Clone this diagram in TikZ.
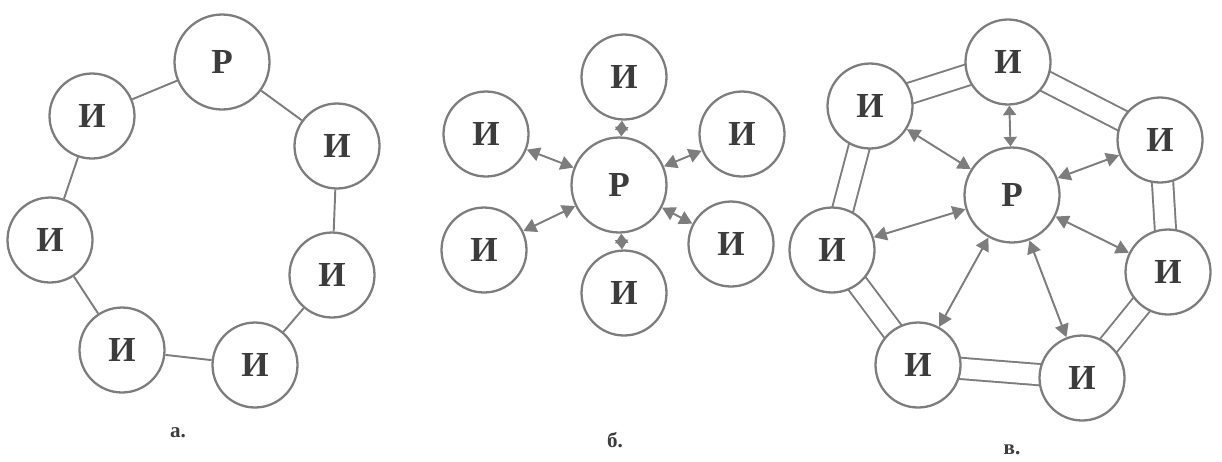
\documentclass[tikz,border=0pt]{standalone}
\usepackage{fontspec}
\setmainfont{Liberation Serif}
\usetikzlibrary{arrows.meta,backgrounds}
\definecolor{inkgray}{RGB}{125,125,125}
\definecolor{textgray}{RGB}{60,60,60}

\begin{document}
\begin{tikzpicture}[
    x=0.02cm, y=-0.02cm,
    unit/.style={circle, draw=inkgray, line width=1.3pt, fill=white,
      inner sep=0pt, minimum size=1.7cm,
      font=\fontsize{20}{22}\selectfont\bfseries, text=textgray},
    hub/.style={unit, minimum size=1.9cm},
    link/.style={draw=inkgray, line width=1.1pt},
    dlink/.style={draw=inkgray, line width=1.1pt, double=white,
      double distance=11pt},
    biarr/.style={link, {Triangle[length=2.6mm,width=2.8mm]}-{Triangle[length=2.6mm,width=2.8mm]}},
    shortarr/.style={link, {Triangle[length=1.9mm,width=2.6mm]}-{Triangle[length=1.9mm,width=2.6mm]}},
    captext/.style={font=\fontsize{12}{14}\selectfont\bfseries, text=textgray}
  ]
  \useasboundingbox (0,0) rectangle (1222,461);

  % ring
  \node[hub]  (aR)  at (222,62)  {Р};
  \node[unit] (aI1) at (92,116)  {И};
  \node[unit] (aI2) at (50,240)  {И};
  \node[unit] (aI3) at (122,350) {И};
  \node[unit] (aI4) at (255,365) {И};
  \node[unit] (aI5) at (332,275) {И};
  \node[unit] (aI6) at (337,146) {И};
  \draw[link] (aR) -- (aI6);
  \draw[link] (aI6) -- (aI5);
  \draw[link] (aI5) -- (aI4);
  \draw[link] (aI4) -- (aI3);
  \draw[link] (aI3) -- (aI2);
  \draw[link] (aI2) -- (aI1);
  \draw[link] (aI1) -- (aR);
  \node[captext] (acap) at (178,433) {а.};

  % star
  \node[hub]  (bR)  at (619,185) {Р};
  \node[unit] (bI1) at (624,77)  {И};
  \node[unit] (bI2) at (742,134) {И};
  \node[unit] (bI3) at (731,244) {И};
  \node[unit] (bI4) at (624,293) {И};
  \node[unit] (bI5) at (484,250) {И};
  \node[unit] (bI6) at (486,134) {И};
  \draw[shortarr] (bR) -- (bI1);
  \draw[biarr] (bR) -- (bI2);
  \draw[biarr] (bR) -- (bI3);
  \draw[shortarr] (bR) -- (bI4);
  \draw[biarr] (bR) -- (bI5);
  \draw[biarr] (bR) -- (bI6);
  \node[captext] (bcap) at (615,440) {б.};

  % ring with star
  \node[hub]  (cR)  at (1012,195) {Р};
  \node[unit] (cI1) at (1008,62)  {И};
  \node[unit] (cI2) at (1160,140) {И};
  \node[unit] (cI3) at (1168,272) {И};
  \node[unit] (cI4) at (1082,378) {И};
  \node[unit] (cI5) at (918,365)  {И};
  \node[unit] (cI6) at (832,250)  {И};
  \node[unit] (cI7) at (870,106)  {И};
  \begin{scope}[on background layer]
    \draw[dlink] (cI1.center) -- (cI2.center);
    \draw[dlink] (cI2.center) -- (cI3.center);
    \draw[dlink] (cI3.center) -- (cI4.center);
    \draw[dlink] (cI4.center) -- (cI5.center);
    \draw[dlink] (cI5.center) -- (cI6.center);
    \draw[dlink] (cI6.center) -- (cI7.center);
    \draw[dlink] (cI7.center) -- (cI1.center);
  \end{scope}
  \draw[shortarr] (cR) -- (cI1);
  \draw[biarr] (cR) -- (cI2);
  \draw[biarr] (cR) -- (cI3);
  \draw[biarr] (cR) -- (cI4);
  \draw[biarr] (cR) -- (cI5);
  \draw[biarr] (cR) -- (cI6);
  \draw[biarr] (cR) -- (cI7);
  \node[captext] (ccap) at (1012,450) {в.};
\end{tikzpicture}
\end{document}
